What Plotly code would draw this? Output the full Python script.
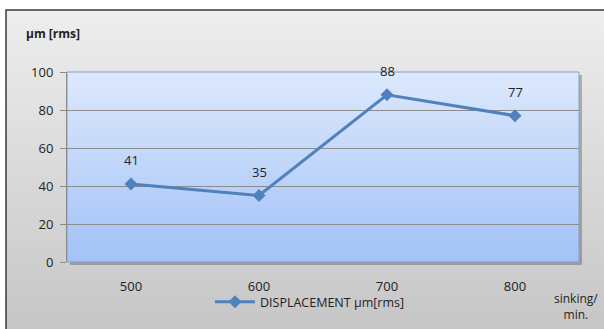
import base64
import plotly.graph_objects as go

categories = ["500", "600", "700", "800"]
displacement = [41, 35, 88, 77]
y_ticks = [0, 20, 40, 60, 80, 100]
series_name = "DISPLACEMENT µm[rms]"
y_title = "µm [rms]"
x_title = "sinking/<br>min."

W, H = 604, 329
L, R, T, B = 67, 579, 72, 262  # plot area in pixels
pw, ph = R - L, B - T

def px_x(x):
    return (x - L) / pw

def px_y(y):
    return (B - y) / ph

def grad_svg(top, bottom):
    svg = ('<svg xmlns="http://www.w3.org/2000/svg" width="100" height="100" preserveAspectRatio="none" viewBox="0 0 100 100">'
           '<defs><linearGradient id="g" x1="0" y1="0" x2="0" y2="1">'
           f'<stop offset="0" stop-color="{top}"/><stop offset="1" stop-color="{bottom}"/>'
           '</linearGradient></defs><rect width="100" height="100" fill="url(#g)"/></svg>')
    return "data:image/svg+xml;base64," + base64.b64encode(svg.encode()).decode()

font = "Open Sans, Liberation Sans, sans-serif"

fig = go.Figure()
fig.add_trace(go.Scatter(
    x=categories, y=displacement, mode="lines+markers", name=series_name,
    line=dict(color="#4f81bd", width=3),
    marker=dict(symbol="diamond", size=10, color="#4f81bd"),
    cliponaxis=False,
))

for i, v in enumerate(displacement):
    fig.add_annotation(x=i, y=v, xref="x", yref="y", text=str(v), showarrow=False, yshift=24,
                       font=dict(size=13, color="#222222", family=font))

ox0, ox1 = px_x(6), px_x(640)
oy0, oy1 = px_y(360), px_y(10)
fig.add_layout_image(dict(source=grad_svg("#eeeeee", "#c2c2c2"), xref="paper", yref="paper",
                          x=ox0, y=oy1, sizex=ox1 - ox0, sizey=oy1 - oy0,
                          xanchor="left", yanchor="top", sizing="stretch", layer="below"))
# plot area shadow
fig.add_layout_image(dict(source=grad_svg("#8a8a8a", "#7a7a7a"), xref="paper", yref="paper",
                          x=px_x(L + 3), y=px_y(T + 3), sizex=1, sizey=1,
                          xanchor="left", yanchor="top", sizing="stretch", layer="below",
                          opacity=0.6))
fig.add_layout_image(dict(source=grad_svg("#dde9fd", "#a2c2f7"), xref="paper", yref="paper",
                          x=0, y=1, sizex=1, sizey=1, xanchor="left", yanchor="top",
                          sizing="stretch", layer="below"))
fig.add_shape(type="rect", xref="paper", yref="paper", x0=0, x1=1, y0=0, y1=1,
              line=dict(color="#7f9fd0", width=1), fillcolor="rgba(0,0,0,0)", layer="below")
# outer border
fig.add_shape(type="rect", xref="paper", yref="paper", x0=ox0, x1=ox1, y0=oy0, y1=oy1,
              line=dict(color="#3a3a3a", width=1.5), fillcolor="rgba(0,0,0,0)", layer="below")

fig.add_annotation(xref="paper", yref="paper", x=px_x(24), y=px_y(33), xanchor="left",
                   yanchor="middle", text=f"<b>{y_title}</b>", showarrow=False,
                   font=dict(size=12, color="#222222", family=font))
fig.add_annotation(xref="paper", yref="paper", x=px_x(576), y=px_y(306), xanchor="center",
                   yanchor="middle", text=x_title, showarrow=False, align="center",
                   font=dict(size=12, color="#222222", family=font))

fig.update_layout(
    width=W, height=H,
    margin=dict(l=L, r=W - R, t=T, b=H - B, pad=0, autoexpand=False),
    paper_bgcolor="white", plot_bgcolor="rgba(0,0,0,0)",
    font=dict(family=font, size=13, color="#222222"),
    showlegend=True,
    legend=dict(orientation="h", x=px_x(310), y=px_y(302), xanchor="center", yanchor="middle",
                bgcolor="rgba(0,0,0,0)", font=dict(size=12.5, color="#222222", family=font),
                itemwidth=40),
    xaxis=dict(type="category", range=[-0.5, 3.5], showgrid=False, ticks="",
               showline=False, zeroline=False, ticklabelstandoff=15,
               tickfont=dict(size=13)),
    yaxis=dict(range=[0, 100], tickvals=y_ticks, showgrid=True, gridcolor="#8c8c8c",
               gridwidth=1, zeroline=False, showline=True, linecolor="#8c8c8c",
               ticks="outside", ticklen=6, tickcolor="#8c8c8c", tickfont=dict(size=13),
               ticklabelstandoff=4),
)

fig.write_html("out.html", config={"displayModeBar": False},
               post_script="document.body.style.margin='0';document.body.style.overflow='hidden';")
